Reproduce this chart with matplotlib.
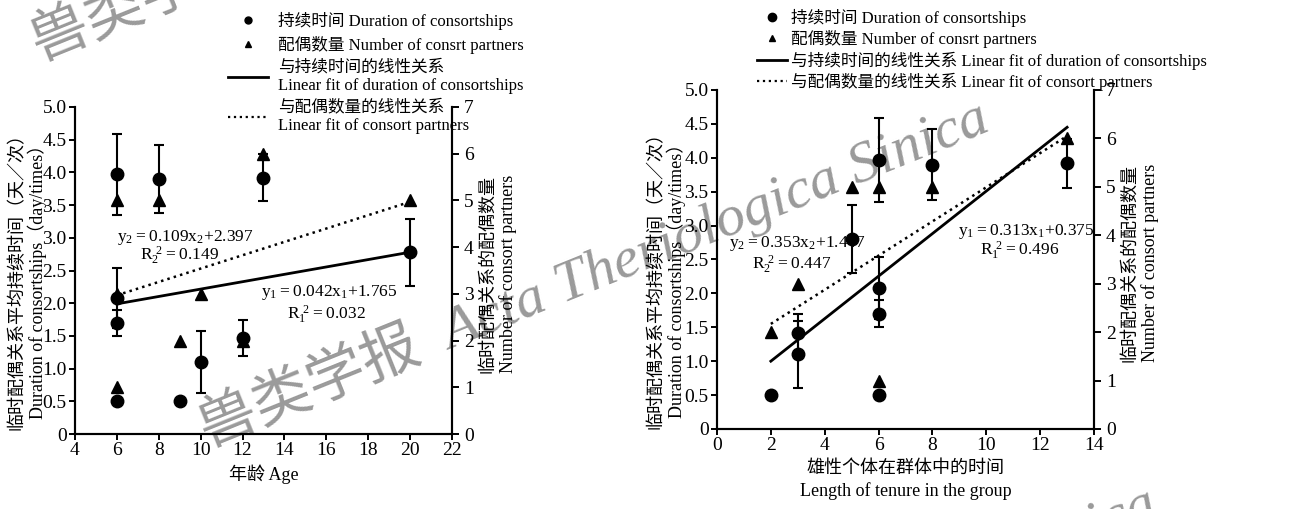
import numpy as np
import matplotlib.pyplot as plt
from matplotlib.lines import Line2D

plt.rcParams['font.family'] = ['Liberation Serif', 'Noto Sans CJK SC']
plt.rcParams['mathtext.fontset'] = 'custom'
plt.rcParams['mathtext.rm'] = 'Liberation Serif'
plt.rcParams['axes.unicode_minus'] = False

# --- données : panneau gauche (âge) ---
age_dur = [6, 6, 6, 6, 8, 9, 10, 12, 13, 20]
dur_age = [3.97, 2.08, 1.70, 0.50, 3.90, 0.50, 1.10, 1.47, 3.92, 2.78]
err_age = [0.62, 0.46, 0.20, 0.0, 0.52, 0.0, 0.48, 0.27, 0.36, 0.51]
age_part = [6, 6, 6, 8, 9, 10, 12, 13, 20]
part_age = [5, 3, 1, 5, 2, 3, 2, 6, 5]
fit1_age_x = [6, 20]
fit1_age_y = [1.99, 2.78]
fit2_age_x = [6, 20]
fit2_age_y = [2.97, 4.97]

# --- données : panneau droit (durée dans le groupe) ---
ten_dur = [2, 3, 3, 5, 6, 6, 6, 6, 8, 13]
dur_ten = [0.50, 1.42, 1.10, 2.80, 3.97, 2.08, 1.70, 0.50, 3.90, 3.92]
err_ten = [0.0, 0.28, 0.50, 0.50, 0.62, 0.46, 0.20, 0.0, 0.52, 0.36]
ten_part = [2, 3, 5, 6, 6, 8, 13]
part_ten = [2, 3, 5, 5, 1, 5, 6]
fit1_ten_x = [2, 13]
fit1_ten_y = [1.00, 4.45]
fit2_ten_x = [2, 13]
fit2_ten_y = [2.17, 6.05]

yticks_left = [0, 0.5, 1.0, 1.5, 2.0, 2.5, 3.0, 3.5, 4.0, 4.5, 5.0]
ytick_labels_left = ['0', '0.5', '1.0', '1.5', '2.0', '2.5', '3.0', '3.5', '4.0', '4.5', '5.0']
yticks_right = [0, 1, 2, 3, 4, 5, 6, 7]

ylab_left = '临时配偶关系平均持续时间（天／次）\nDuration of consortships（day/times）'
ylab_right = '临时配偶关系的配偶数量\nNumber of consort partners'

fig = plt.figure(figsize=(12.9, 5.09), dpi=100)


def setup(ax, xlim, xticks, ylab_pos):
    ax.set_xlim(*xlim)
    ax.set_ylim(0, 5)
    ax.set_xticks(xticks)
    ax.set_yticks(yticks_left)
    ax.set_yticklabels(ytick_labels_left)
    ax.spines['top'].set_visible(False)
    for s in ax.spines.values():
        s.set_linewidth(1.5)
    ax.tick_params(direction='out', length=4, width=1.4, labelsize=14, pad=2)
    ax.set_ylabel(ylab_left, fontsize=13, linespacing=1.15)
    ax.yaxis.set_label_coords(*ylab_pos)
    ax.patch.set_alpha(0)
    ax2 = ax.twinx()
    ax2.set_ylim(0, 7)
    ax2.set_yticks(yticks_right)
    ax2.spines['top'].set_visible(False)
    for s in ax2.spines.values():
        s.set_linewidth(1.5)
    ax2.tick_params(direction='out', length=5, width=1.4, labelsize=14)
    ax2.set_ylabel(ylab_right, fontsize=13, linespacing=1.2)
    ax2.yaxis.set_label_coords(1.072, 0.49)
    return ax2


def draw(ax, ax2, xd, yd, ed, xp, yp, f1x, f1y, f2x, f2y):
    ax.errorbar(xd, yd, yerr=ed, fmt='o', color='black', ms=9,
                capsize=3.5, elinewidth=1.5, capthick=1.5)
    ax.plot(f1x, f1y, '-', color='black', lw=2)
    ax2.plot(xp, yp, '^', color='black', ms=8)
    ax2.plot(f2x, f2y, ':', color='black', lw=1.8)


def eq(ax, x, y, s):
    ax.text(x, y, s, fontsize=12.5, va='center')


# --- filigrane ---
for dx, dy in [(-168, -386), (0, 0), (168, 386)]:
    fig.text((208 + dx) / 1290, 1 - (447 + dy) / 509,
             '兽类学报  Acta Theriologica Sinica', fontsize=42, style='italic',
             color='#9a9a9a', rotation=22, rotation_mode='anchor',
             ha='left', va='baseline', zorder=-1)

# --- panneau gauche ---
axL = fig.add_axes([0.0581, 0.1473, 0.2923, 0.6425])
axL2 = setup(axL, (4, 22), np.arange(4, 23, 2), (-0.074, 0.48))
draw(axL, axL2, age_dur, dur_age, err_age, age_part, part_age,
     fit1_age_x, fit1_age_y, fit2_age_x, fit2_age_y)
axL.set_xlabel('年龄 Age', fontsize=13)
eq(axL, 6.0, 3.01, r'$\mathrm{y_2{=}0.109x_2{+}2.397}$')
eq(axL, 7.1, 2.72, r'$\mathrm{R_2^{\ 2}{=}0.149}$')
eq(axL, 12.9, 2.16, r'$\mathrm{y_1{=}0.042x_1{+}1.765}$')
eq(axL, 14.1, 1.82, r'$\mathrm{R_1^{\ 2}{=}0.032}$')

handlesL = [Line2D([], [], ls='', marker='o', color='black', ms=5),
            Line2D([], [], ls='', marker='^', color='black', ms=5),
            Line2D([], [], ls='-', color='black', lw=2),
            Line2D([], [], ls=':', color='black', lw=1.6)]
labelsL = ['持续时间 Duration of consortships',
           '配偶数量 Number of consrt partners',
           '与持续时间的线性关系\nLinear fit of duration of consortships',
           '与配偶数量的线性关系\nLinear fit of consort partners']
fig.legend(handlesL, labelsL, loc='upper left', bbox_to_anchor=(0.168, 1.0),
           frameon=False, fontsize=12, handlelength=2.4, handletextpad=0.6,
           labelspacing=0.35, borderpad=0.2)

# --- panneau droit ---
axR = fig.add_axes([0.5558, 0.1572, 0.2923, 0.6660])
axR2 = setup(axR, (0, 14), np.arange(0, 15, 2), (-0.082, 0.45))
draw(axR, axR2, ten_dur, dur_ten, err_ten, ten_part, part_ten,
     fit1_ten_x, fit1_ten_y, fit2_ten_x, fit2_ten_y)
axR.set_xlabel('雄性个体在群体中的时间\nLength of tenure in the group', fontsize=13,
               linespacing=1.4)
eq(axR, 0.45, 2.74, r'$\mathrm{y_2{=}0.353x_2{+}1.447}$')
eq(axR, 1.3, 2.42, r'$\mathrm{R_2^{\ 2}{=}0.447}$')
eq(axR, 8.95, 2.92, r'$\mathrm{y_1{=}0.313x_1{+}0.375}$')
eq(axR, 9.77, 2.63, r'$\mathrm{R_1^{\ 2}{=}0.496}$')

handlesR = [Line2D([], [], ls='', marker='o', color='black', ms=6),
            Line2D([], [], ls='', marker='^', color='black', ms=5),
            Line2D([], [], ls='-', color='black', lw=2),
            Line2D([], [], ls=':', color='black', lw=1.6)]
labelsR = ['持续时间 Duration of consortships',
           '配偶数量 Number of consrt partners',
           '与持续时间的线性关系 Linear fit of duration of consortships',
           '与配偶数量的线性关系 Linear fit of consort partners']
fig.legend(handlesR, labelsR, loc='upper left', bbox_to_anchor=(0.578, 1.006),
           frameon=False, fontsize=12, handlelength=1.8, handletextpad=0.2,
           labelspacing=0.2, borderpad=0.2)

fig.savefig('out.png', dpi=100)
